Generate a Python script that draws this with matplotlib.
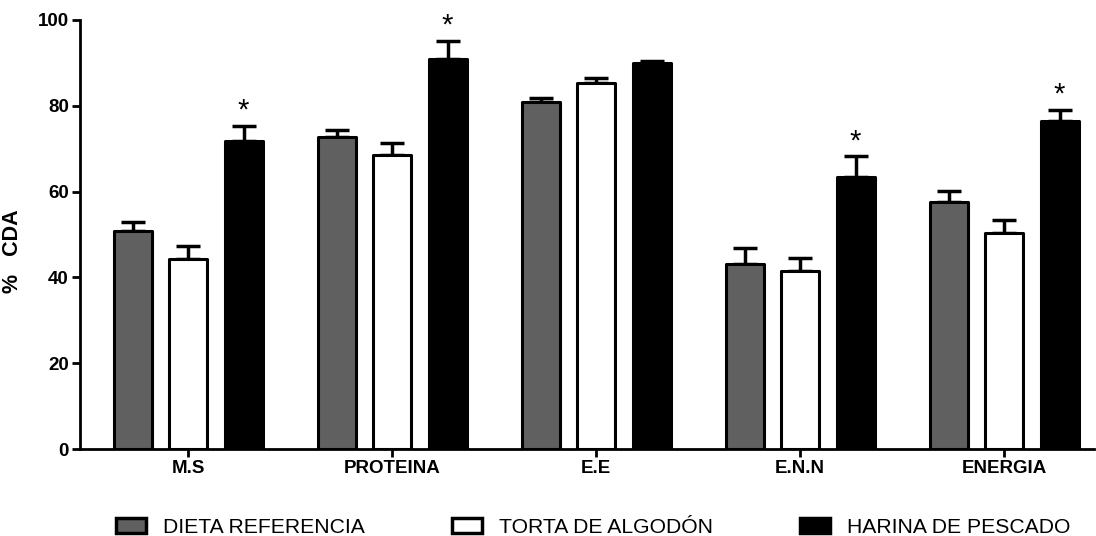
import numpy as np
import matplotlib.pyplot as plt
from matplotlib.patches import Patch

plt.rcParams['font.family'] = ['Liberation Sans', 'DejaVu Sans']

CATEGORIES = ['M.S', 'PROTEINA', 'E.E', 'E.N.N', 'ENERGIA']
SERIES = ['DIETA REFERENCIA', 'TORTA DE ALGODÓN', 'HARINA DE PESCADO']
MEANS = [
    [50.8, 72.8, 80.8, 43.1, 57.6],
    [44.4, 68.5, 85.2, 41.6, 50.4],
    [71.8, 90.9, 90.0, 63.5, 76.4],
]
ERRORS = [
    [2.2, 1.6, 0.9, 3.8, 2.5],
    [2.9, 2.9, 1.2, 3.0, 2.9],
    [3.5, 4.1, 0.5, 4.7, 2.7],
]
SIGNIFICANT = [True, True, False, True, True]  # asterisco en harina de pescado
COLORS = ['#606060', '#ffffff', '#000000']

fig = plt.figure(figsize=(10.96, 5.36), dpi=100)
ax = fig.add_axes([0.073, 0.162, 0.925, 0.801])

x = np.arange(len(CATEGORIES))
step = 0.272
width = 0.186

for i in range(len(SERIES)):
    pos = x + (i - 1) * step
    ax.bar(pos, MEANS[i], width, color=COLORS[i], edgecolor='black', linewidth=2.2,
           joinstyle='round', zorder=2)
    ax.errorbar(pos, MEANS[i], yerr=[np.zeros(len(x)), ERRORS[i]], fmt='none',
                ecolor='black', elinewidth=2.5, capsize=8.5, capthick=2.5, zorder=1)

for j in range(len(x)):
    if SIGNIFICANT[j]:
        ax.text(x[j] + step, MEANS[2][j] + ERRORS[2][j] + 0.3, '*', ha='center', va='bottom',
                fontsize=21, color='black')

ax.set_xlim(-0.53, 4.44)
ax.set_ylim(0, 100)
ax.set_yticks([0, 20, 40, 60, 80, 100])
ax.set_xticks(x)
ax.set_xticklabels(CATEGORIES, fontweight='bold', fontsize=13.5)
for lab in ax.get_yticklabels():
    lab.set_fontweight('bold')
    lab.set_fontsize(13.5)
ax.set_ylabel('%   CDA', fontweight='bold', fontsize=15.5)
ax.yaxis.set_label_coords(-0.056, 0.46)

ax.spines['top'].set_visible(False)
ax.spines['right'].set_visible(False)
ax.spines['left'].set_linewidth(2)
ax.spines['bottom'].set_linewidth(2)
ax.tick_params(axis='both', direction='out', width=2, length=6, pad=2)

handles = [Patch(facecolor=COLORS[i], edgecolor='black', linewidth=2.5) for i in range(3)]
fig.legend(handles, SERIES, loc='center left', bbox_to_anchor=(0.106, 0.016), ncol=3,
           frameon=False, fontsize=15.2, columnspacing=4.15, handlelength=1.4, handleheight=0.65,
           handletextpad=0.8, borderaxespad=0, borderpad=0)

fig.savefig('out.png', dpi=100)
